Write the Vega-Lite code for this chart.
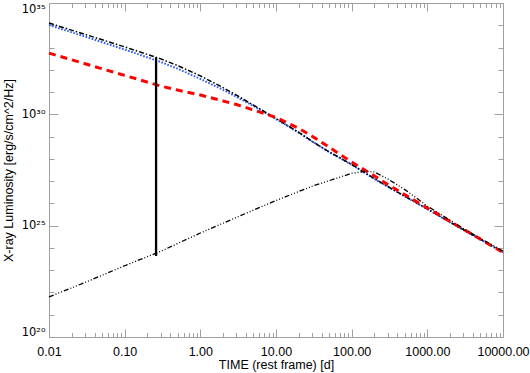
{
  "$schema": "https://vega.github.io/schema/vega-lite/v6.json",
  "width": 454,
  "height": 334,
  "autosize": {"type": "none"},
  "padding": {"left": 49, "top": 3, "right": 27, "bottom": 36},
  "background": "white",
  "config": {
    "view": {"stroke": "#a0a0a0", "strokeWidth": 1},
    "axis": {
      "labelFont": "Liberation Sans",
      "titleFont": "Liberation Sans",
      "labelFontSize": 12.5,
      "titleFontSize": 12.5,
      "labelColor": "black",
      "titleColor": "black",
      "titleFontWeight": "normal",
      "tickColor": "#a0a0a0",
      "domain": false,
      "grid": false,
      "labelFlush": false,
      "labelOverlap": false
    }
  },
  "data": {
    "values": [
      {"s": "A", "t": 0.01, "L": 1.259e34},
      {"s": "A", "t": 0.03, "L": 3.890e33},
      {"s": "A", "t": 0.1, "L": 1.072e33},
      {"s": "A", "t": 0.3, "L": 3.090e32},
      {"s": "A", "t": 0.5, "L": 1.549e32},
      {"s": "A", "t": 1, "L": 5.370e31},
      {"s": "A", "t": 2, "L": 1.585e31},
      {"s": "A", "t": 3, "L": 7.244e30},
      {"s": "A", "t": 5, "L": 2.630e30},
      {"s": "A", "t": 10, "L": 6.457e29},
      {"s": "A", "t": 20, "L": 1.549e29},
      {"s": "A", "t": 30, "L": 6.166e28},
      {"s": "A", "t": 50, "L": 2.089e28},
      {"s": "A", "t": 100, "L": 5.623e27},
      {"s": "A", "t": 200, "L": 1.288e27},
      {"s": "A", "t": 300, "L": 5.754e26},
      {"s": "A", "t": 1000, "L": 5.623e25},
      {"s": "A", "t": 3000, "L": 6.607e24},
      {"s": "A", "t": 10000, "L": 6.457e23},
      {"s": "B", "t": 0.01, "L": 1.023e34},
      {"s": "B", "t": 0.03, "L": 3.090e33},
      {"s": "B", "t": 0.1, "L": 8.128e32},
      {"s": "B", "t": 0.3, "L": 2.239e32},
      {"s": "B", "t": 0.5, "L": 1.122e32},
      {"s": "B", "t": 1, "L": 3.890e31},
      {"s": "B", "t": 2, "L": 1.259e31},
      {"s": "B", "t": 3, "L": 6.166e30},
      {"s": "B", "t": 5, "L": 2.399e30},
      {"s": "B", "t": 10, "L": 6.166e29},
      {"s": "B", "t": 20, "L": 1.514e29},
      {"s": "B", "t": 30, "L": 6.026e28},
      {"s": "B", "t": 50, "L": 2.042e28},
      {"s": "B", "t": 100, "L": 5.495e27},
      {"s": "B", "t": 200, "L": 1.259e27},
      {"s": "B", "t": 300, "L": 5.623e26},
      {"s": "B", "t": 1000, "L": 5.495e25},
      {"s": "B", "t": 3000, "L": 6.457e24},
      {"s": "B", "t": 10000, "L": 6.310e23},
      {"s": "C", "t": 0.01, "L": 5.623e32},
      {"s": "C", "t": 0.03, "L": 1.862e32},
      {"s": "C", "t": 0.1, "L": 5.623e31},
      {"s": "C", "t": 0.3, "L": 1.862e31},
      {"s": "C", "t": 0.5, "L": 1.230e31},
      {"s": "C", "t": 1, "L": 7.413e30},
      {"s": "C", "t": 2, "L": 3.981e30},
      {"s": "C", "t": 3, "L": 2.754e30},
      {"s": "C", "t": 5, "L": 1.585e30},
      {"s": "C", "t": 10, "L": 7.244e29},
      {"s": "C", "t": 20, "L": 2.344e29},
      {"s": "C", "t": 30, "L": 1.047e29},
      {"s": "C", "t": 50, "L": 3.388e28},
      {"s": "C", "t": 100, "L": 7.244e27},
      {"s": "C", "t": 200, "L": 1.698e27},
      {"s": "C", "t": 300, "L": 7.079e26},
      {"s": "C", "t": 1000, "L": 6.166e25},
      {"s": "C", "t": 3000, "L": 6.918e24},
      {"s": "C", "t": 10000, "L": 6.310e23},
      {"s": "D", "t": 0.01, "L": 6.310e21},
      {"s": "D", "t": 0.03, "L": 2.818e22},
      {"s": "D", "t": 0.1, "L": 1.585e23},
      {"s": "D", "t": 0.3, "L": 7.079e23},
      {"s": "D", "t": 1, "L": 4.677e24},
      {"s": "D", "t": 3, "L": 2.344e25},
      {"s": "D", "t": 10, "L": 1.349e26},
      {"s": "D", "t": 30, "L": 5.888e26},
      {"s": "D", "t": 100, "L": 2.239e27},
      {"s": "D", "t": 150, "L": 2.754e27},
      {"s": "D", "t": 200, "L": 2.570e27},
      {"s": "D", "t": 300, "L": 1.259e27},
      {"s": "D", "t": 500, "L": 4.266e26},
      {"s": "D", "t": 1000, "L": 7.586e25},
      {"s": "D", "t": 3000, "L": 7.413e24},
      {"s": "D", "t": 10000, "L": 7.079e23},
      {"s": "V", "t": 0.26, "L": 4.365e23},
      {"s": "V", "t": 0.26, "L": 3.631e32}
    ]
  },
  "layer": [
    {
      "transform": [{"filter": "datum.s == 'B'"}],
      "mark": {"type": "line", "color": "#2f5cff", "strokeWidth": 2, "strokeDash": [1.6, 1.6]},
      "encoding": {
        "x": {"field": "t", "type": "quantitative", "scale": {"type": "log", "domain": [0.01, 10000], "nice": false},
          "axis": {"orient": "bottom", "values": [0.01, 0.1, 1, 10, 100, 1000, 10000], "format": ".2f", "tickSize": -8, "labelPadding": 16, "title": "TIME (rest frame) [d]", "titlePadding": 1}},
        "y": {"field": "L", "type": "quantitative", "scale": {"type": "log", "domain": [1e20, 1e35], "nice": false},
          "axis": {"orient": "left", "values": [1e20, 1e25, 1e30, 1e35], "labelExpr": "datum.value > 1e34 ? '10³⁵' : datum.value > 1e29 ? '10³⁰' : datum.value > 1e24 ? '10²⁵' : '10²⁰'", "labelFont": "DejaVu Sans", "labelFontSize": 11.5, "labelFlush": true, "tickSize": -9, "labelPadding": 13, "title": "X-ray Luminosity [erg/s/cm^2/Hz]", "titlePadding": 6}}
      }
    },
    {
      "transform": [{"filter": "datum.s == 'A'"}],
      "mark": {"type": "line", "color": "black", "strokeWidth": 1.5, "strokeDash": [5, 2, 1.5, 2]},
      "encoding": {
        "x": {"field": "t", "type": "quantitative", "scale": {"type": "log", "domain": [0.01, 10000], "nice": false},
          "axis": {"orient": "bottom", "values": [0.02,0.03,0.04,0.05,0.06,0.07,0.08,0.09,0.2,0.3,0.4,0.5,0.6,0.7,0.8,0.9,2,3,4,5,6,7,8,9,20,30,40,50,60,70,80,90,200,300,400,500,600,700,800,900,2000,3000,4000,5000,6000,7000,8000,9000], "labels": false, "tickSize": -4.5, "title": null}},
        "y": {"field": "L", "type": "quantitative", "scale": {"type": "log", "domain": [1e20, 1e35], "nice": false},
          "axis": {"orient": "left", "values": [1e21,1e22,1e23,1e24,1e26,1e27,1e28,1e29,1e31,1e32,1e33,1e34], "labels": false, "tickSize": -5, "title": null}}
      }
    },
    {
      "transform": [{"filter": "datum.s == 'C'"}],
      "mark": {"type": "line", "color": "#ff0000", "strokeWidth": 3, "strokeDash": [7, 5]},
      "encoding": {
        "x": {"field": "t", "type": "quantitative", "scale": {"type": "log", "domain": [0.01, 10000], "nice": false},
          "axis": {"orient": "top", "values": [0.01, 0.1, 1, 10, 100, 1000, 10000], "labels": false, "tickSize": -8, "title": null}},
        "y": {"field": "L", "type": "quantitative", "scale": {"type": "log", "domain": [1e20, 1e35], "nice": false},
          "axis": {"orient": "right", "values": [1e20, 1e25, 1e30, 1e35], "labels": false, "tickSize": -9, "title": null}}
      }
    },
    {
      "transform": [{"filter": "datum.s == 'D'"}],
      "mark": {"type": "line", "color": "black", "strokeWidth": 1.3, "strokeDash": [5, 2, 1, 2, 1, 2, 1, 2]},
      "encoding": {
        "x": {"field": "t", "type": "quantitative", "scale": {"type": "log", "domain": [0.01, 10000], "nice": false},
          "axis": {"orient": "top", "values": [0.02,0.03,0.04,0.05,0.06,0.07,0.08,0.09,0.2,0.3,0.4,0.5,0.6,0.7,0.8,0.9,2,3,4,5,6,7,8,9,20,30,40,50,60,70,80,90,200,300,400,500,600,700,800,900,2000,3000,4000,5000,6000,7000,8000,9000], "labels": false, "tickSize": -4.5, "title": null}},
        "y": {"field": "L", "type": "quantitative", "scale": {"type": "log", "domain": [1e20, 1e35], "nice": false},
          "axis": {"orient": "right", "values": [1e21,1e22,1e23,1e24,1e26,1e27,1e28,1e29,1e31,1e32,1e33,1e34], "labels": false, "tickSize": -5, "title": null}}
      }
    },
    {
      "transform": [{"filter": "datum.s == 'V'"}],
      "mark": {"type": "line", "color": "black", "strokeWidth": 2.3},
      "encoding": {
        "x": {"field": "t", "type": "quantitative", "scale": {"type": "log", "domain": [0.01, 10000], "nice": false}, "axis": null},
        "y": {"field": "L", "type": "quantitative", "scale": {"type": "log", "domain": [1e20, 1e35], "nice": false}, "axis": null}
      }
    }
  ],
  "resolve": {"axis": {"x": "independent", "y": "independent"}}
}
